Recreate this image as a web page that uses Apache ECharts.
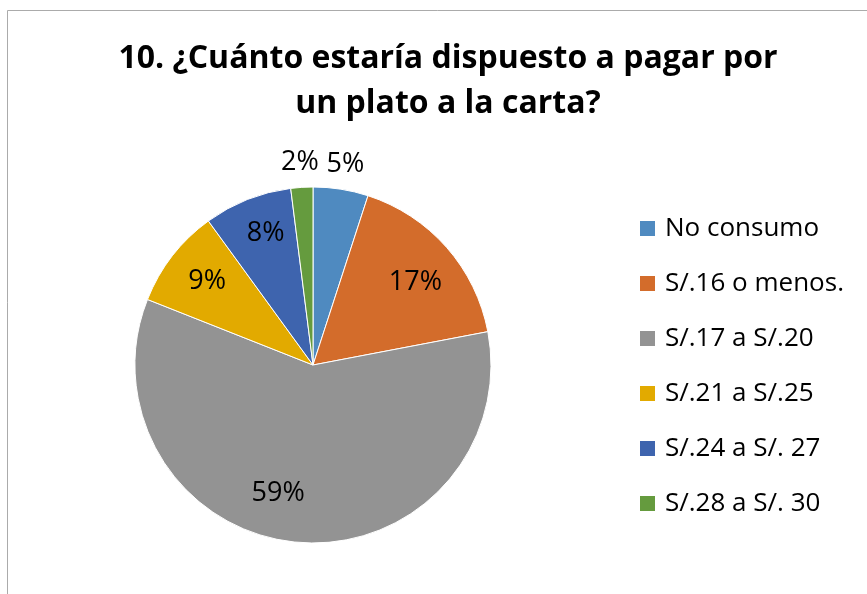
<!DOCTYPE html>
<html><head><meta charset="utf-8">
<script src="https://cdn.jsdelivr.net/npm/echarts@6/dist/echarts.min.js"></script>
<style>html,body{margin:0;padding:0;background:#fff}#c{width:867px;height:594px}</style>
</head><body><div id="c"></div>
<script>
const titleText = "10. ¿Cuánto estaría dispuesto a pagar por\nun plato a la carta?";
const categories = ["No consumo", "S/.16 o menos.", "S/.17 a S/.20", "S/.21 a S/.25", "S/.24 a S/. 27", "S/.28 a S/. 30"];
const values = [5, 17, 59, 9, 8, 2];
const colors = ["#4F8AC0", "#D36C2B", "#939393", "#E2AA00", "#3E64AE", "#659B3E"];
const outsideLabel = [true, false, false, false, false, true];
// small nudges reproducing the source's "best fit" label placement
const labelNudge = [[0, 4], [0, 8], [-22, -8], [2, 0], [3, -5], [0, 4]];

const chart = echarts.init(document.getElementById('c'));
const FONT = "Open Sans";
const C = [313, 365];
const R = 178;
const fmt = p => p.value + '%';

const mainData = categories.map((n, i) => ({ name: n, value: values[i], itemStyle: { color: colors[i] } }));
const innerLabelData = categories.map((n, i) => ({ name: n, value: values[i], label: { show: !outsideLabel[i] } }));
const outerLabelData = categories.map((n, i) => ({ name: n, value: values[i], label: { show: outsideLabel[i] } }));
const nudge = p => ({ dx: labelNudge[p.dataIndex][0], dy: labelNudge[p.dataIndex][1] });

chart.setOption({
  animation: false,
  backgroundColor: '#fff',
  graphic: [{
    type: 'rect', shape: { x: 7.5, y: 10.5, width: 1000, height: 1000 },
    style: { fill: null, stroke: '#ABABAB', lineWidth: 1 }, silent: true, z: -1
  }],
  title: {
    text: titleText, left: 443, top: 31, textAlign: 'center',
    textStyle: { fontFamily: FONT, fontWeight: 'bold', fontSize: 32, color: '#000', lineHeight: 45 }
  },
  legend: {
    orient: 'vertical', left: 633, top: 209,
    itemWidth: 17, itemHeight: 17, itemGap: 26,
    icon: 'rect',
    data: categories.map((n, i) => ({ name: n, itemStyle: { color: colors[i] } })),
    textStyle: { fontFamily: FONT, fontSize: 26, color: '#000', padding: [0, 0, 0, 4], lineHeight: 29 }
  },
  series: [
    {
      type: 'pie', center: C, radius: [0, R], startAngle: 90, clockwise: true,
      data: mainData, label: { show: false }, labelLine: { show: false },
      itemStyle: { borderColor: '#fff', borderWidth: 1 }, silent: true
    },
    {
      type: 'pie', center: C, radius: [0, R * 1.5], startAngle: 90, clockwise: true,
      data: innerLabelData, itemStyle: { color: 'rgba(0,0,0,0)' }, silent: true,
      label: { position: 'inside', formatter: fmt, fontFamily: FONT, fontSize: 27, color: '#000' },
      labelLine: { show: false }, labelLayout: nudge
    },
    {
      type: 'pie', center: C, radius: [R, R + 52], startAngle: 90, clockwise: true,
      data: outerLabelData, itemStyle: { color: 'rgba(0,0,0,0)' }, silent: true,
      label: { position: 'inside', formatter: fmt, fontFamily: FONT, fontSize: 27, color: '#000' },
      labelLine: { show: false }, labelLayout: nudge
    }
  ]
});
</script></body></html>
